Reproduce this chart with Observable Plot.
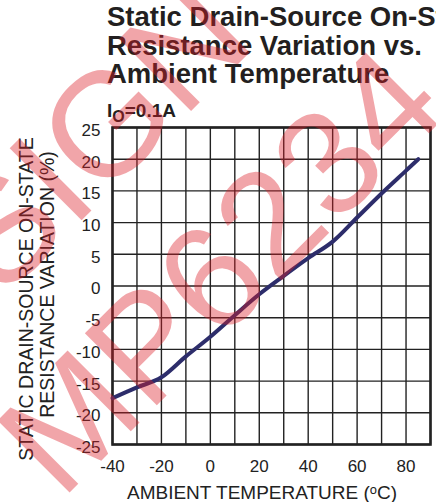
<!DOCTYPE html>
<html>
<head>
<meta charset="utf-8">
<script src="https://cdn.jsdelivr.net/npm/d3@7"></script>
<script src="https://cdn.jsdelivr.net/npm/@observablehq/plot@0.6"></script>
<style>
  html, body { margin: 0; padding: 0; background: #fff; }
  #wrap { position: relative; width: 436px; height: 502px; overflow: hidden;
          font-family: "Liberation Sans", Arial, Helvetica, sans-serif; color: #231f20; }
  #head { position: relative; width: 436px; height: 120px; }
  .t { position: absolute; left: 107px; white-space: nowrap; font-weight: bold;
       font-size: 27.5px; line-height: 27.5px; }
  .sub { position: absolute; left: 107px; top: 100.6px; white-space: nowrap; font-weight: bold;
         font-size: 19px; line-height: 19px; }
  .sub span { font-size: 16px; position: relative; top: 5px; }
  #wm { position: absolute; left: 0; top: 0; pointer-events: none; }
</style>
</head>
<body>
<div id="wrap">
  <div id="head">
    <div class="t" style="top:3.4px">Static Drain-Source On-State</div>
    <div class="t" style="top:31.7px">Resistance Variation vs.</div>
    <div class="t" style="top:60.0px">Ambient Temperature</div>
    <div class="sub">I<span>O</span>=0.1A</div>
  </div>
  <div id="chart"></div>
  <svg id="wm" width="436" height="502">
    <g fill="rgb(220,30,40)" fill-opacity="0.4" font-family="Liberation Sans, Arial, sans-serif" font-size="148">
      <text transform="translate(61,501) rotate(-45)">MP6234</text>
      <text transform="translate(258,44) rotate(-45)" text-anchor="end">DESIGN</text>
    </g>
  </svg>
</div>
<script>
// Data
const temperature = [-40, -30, -20, -10, 0, 10, 20, 30, 40, 50, 60, 70, 80, 85];
const variation   = [-17.7, -16.0, -14.4, -11.1, -8.0, -4.6, -1.3, 1.6, 4.4, 7.0, 10.8, 14.6, 18.2, 20.0];
const xTicks = [-40, -20, 0, 20, 40, 60, 80];
const xGrid  = [-40, -30, -20, -10, 0, 10, 20, 30, 40, 50, 60, 70, 80, 90];
const yTicks = [-25, -20, -15, -10, -5, 0, 5, 10, 15, 20, 25];
const xLabel = "AMBIENT TEMPERATURE (\u1D52C)";
const yLabel1 = "STATIC DRAIN-SOURCE ON-STATE";
const yLabel2 = "RESISTANCE VARIATION (%)";

const data = temperature.map((t, i) => ({t, v: variation[i]}));
const ink = "#222";

const chart = Plot.plot({
  width: 436,
  height: 382,
  marginTop: 7,
  marginBottom: 58,
  marginLeft: 112,
  marginRight: 6,
  style: {fontFamily: "Liberation Sans, Arial, sans-serif", fontSize: "17px", color: ink, background: "#fff", overflow: "visible"},
  x: {domain: [-40, 90]},
  y: {domain: [-25, 25]},
  marks: [
    Plot.gridX(xGrid, {stroke: ink, strokeOpacity: 1, strokeWidth: 1.4}),
    Plot.gridY(yTicks, {stroke: ink, strokeOpacity: 1, strokeWidth: 1.4}),
    Plot.frame({stroke: ink, strokeWidth: 2.6}),
    Plot.line(data, {x: "t", y: "v", stroke: "#2d2d6b", strokeWidth: 4, curve: "monotone-x"}),
    Plot.axisX(xTicks, {tickSize: 0, tickPadding: 15, tickFormat: d => String(d), label: null, fontSize: 17, fill: ink}),
    Plot.axisY(yTicks, {tickSize: 0, tickPadding: 12, tickFormat: d => String(d), label: null, dy: 3, fontSize: 17, fill: ink}),
    Plot.text([xLabel], {frameAnchor: "bottom", lineAnchor: "bottom", textAnchor: "middle", dy: 54, dx: -9.5, fontSize: 19, fill: ink}),
    Plot.text([yLabel1], {frameAnchor: "left", lineAnchor: "bottom", textAnchor: "middle", rotate: -90, dx: -80, dy: 13, fontSize: 19.5, fill: ink}),
    Plot.text([yLabel2], {frameAnchor: "left", lineAnchor: "bottom", textAnchor: "middle", rotate: -90, dx: -59, dy: -1.5, fontSize: 19.5, fill: ink})
  ]
});
document.getElementById("chart").appendChild(chart);
</script>
</body>
</html>
